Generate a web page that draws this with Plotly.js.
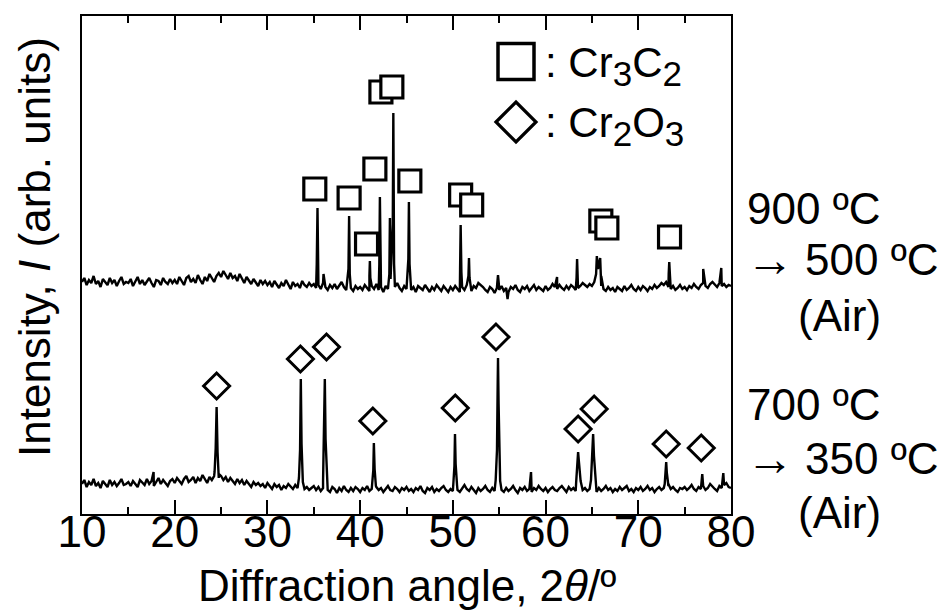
<!DOCTYPE html>
<html><head><meta charset="utf-8">
<script src="https://cdn.plot.ly/plotly-3.0.1.min.js"></script>
<style>html,body{margin:0;padding:0;background:#fff}#chart{width:944px;height:614px}</style>
</head><body><div id="chart"></div><script>
// scan grid: 10 to 80 deg, step 0.25 deg
const scanStart = 10, scanStep = 0.25;

// upper pattern (900 ºC -> 500 ºC), background values
const upperBase = [
232,236,229,234,231,238,230,233,227,235,232,229,236,231,234,228,233,237,230,232,
231,235,228,233,237,230,234,229,232,236,231,227,234,233,229,236,232,230,235,231,
234,230,237,233,229,236,238,232,235,231,239,234,230,237,233,240,236,232,238,241,
237,243,239,235,241,236,238,233,240,236,231,237,234,230,235,232,228,234,230,233,
229,232,227,233,230,226,231,228,234,229,225,232,228,230,226,233,229,227,231,228,
230,226,229,225,231,227,224,229,226,230,225,228,232,227,224,229,226,223,228,225,
227,224,229,226,223,228,225,230,224,227,222,228,225,229,224,227,231,226,223,228,
225,229,224,227,222,228,226,224,229,225,222,227,224,229,226,223,228,225,222,227,
224,228,225,222,227,224,229,225,223,228,226,231,229,227,224,222,227,225,221,226,
224,228,223,226,222,227,225,229,224,222,227,225,228,223,226,229,224,227,225,223,
228,224,226,230,227,225,229,226,224,228,225,229,227,224,226,228,231,229,227,230,
228,232,229,226,228,225,223,227,224,226,222,227,225,223,228,224,226,229,225,223,
227,224,228,226,223,227,225,229,226,228,231,229,232,227,225,228,224,226,229,225,
227,224,228,226,230,227,225,229,231,228,226,230,232,229,227,231,228,230,227,229,
228];
// upper pattern peaks (angle groups, intensity groups)
const upperPeakX = [
[35.32,35.40,35.47],[36.05],[38.74,38.81,38.88],[41.00,41.05,41.10],
[42.07,42.13,42.19],[43.15,43.21,43.28,43.52,43.58,43.66],[45.20,45.26,45.33],
[50.78,50.84,50.92],[51.68,51.74,51.80],[54.80,54.87,54.95],[55.90],[61.24],
[63.34,63.40,63.47],[65.45,65.53,65.65,65.89,66.00],[73.28,73.34,73.42],[77.00],[78.95]];
const upperPeakY = [
[250,306,248],[240],[245,298,240],[238,253,236],
[250,317,245],[240,296,235,290,401,250],[255,312,250],
[245,289,242],[238,256,236],[232,239,231],[215],[237],
[236,255,235],[240,258,245,256,238],[240,252,238],[245],[246]];

// lower pattern (700 ºC -> 350 ºC)
const lowerBase = [
30,34,27,32,29,35,28,31,26,33,30,27,34,29,32,28,31,35,29,30,
32,28,33,30,27,34,31,29,35,30,33,28,32,36,30,34,31,28,33,35,
31,36,33,30,35,38,32,34,37,31,36,33,39,35,31,37,34,38,33,36,
38,34,37,32,36,33,30,35,31,34,29,33,30,27,32,29,31,28,30,26,
31,28,25,30,27,29,24,28,26,30,27,25,29,26,23,28,25,27,24,26,
28,24,27,23,26,29,24,22,27,25,21,26,23,28,24,22,26,23,27,25,
22,26,24,28,23,25,21,27,24,26,22,25,28,24,23,27,25,22,26,24,
27,23,25,22,26,24,28,23,21,26,24,27,22,25,23,26,28,24,22,25,
23,27,24,22,26,29,25,23,27,24,21,26,23,25,28,24,22,26,23,25,
27,24,22,26,23,25,28,24,21,26,24,27,23,25,22,26,24,28,25,23,
26,22,25,27,24,23,26,28,25,22,27,24,26,23,25,28,24,26,23,25,
27,24,22,26,23,25,28,24,26,22,25,23,27,24,26,28,23,25,22,26,
24,27,23,25,28,24,26,22,25,27,24,26,23,28,25,27,24,22,26,25,
27,24,26,29,25,23,27,25,28,24,26,30,27,25,23,28,26,29,31,27,
26];
const lowerPeakX = [
[17.72],[24.30,24.42,24.52,24.62,24.75],[33.40,33.52,33.60,33.68,33.82],
[36.00,36.12,36.19,36.27,36.42],[41.30,41.42,41.48,41.56,41.70],
[50.05,50.17,50.23,50.30,50.45],[54.62,54.76,54.84,54.87,54.93,55.10],[58.43],
[63.30,63.43,63.51,63.60,63.78],[64.90,65.05,65.13,65.22,65.45],
[72.85,72.95,73.01,73.08,73.25],[76.90],[79.17]];
const lowerPeakY = [
[42],[42,66,107,62,40],[36,64,135,70,32],
[33,82,135,75,30],[30,44,71,45,28],
[30,48,80,50,29],[34,64,134,156,111,33],[42],
[32,50,62,52,33],[34,60,80,58,33],
[30,42,52,41,30],[40],[41]];

// phase markers
const cr3c2X = [35.11,38.81,40.69,41.59,42.24,43.42,45.36,50.84,52.03,65.96,66.61,73.37];
const cr3c2Y = [325,316,270,345,422,427,333,319,309,293,286,277];
const cr2o3X = [24.52,33.56,36.37,41.37,50.26,54.65,63.51,65.24,73.01,76.79];
const cr2o3Y = [128,155,167,93,106,177,85,105,70,66];

const xTicks = [10,20,30,40,50,60,70,80];

function buildPattern(base, peakX, peakY){
  const pts = [];
  base.forEach((v,i)=>{
    const x = scanStart + i*scanStep;
    const inside = peakX.some(g => g.length > 1 && x > g[0] && x < g[g.length-1]);
    if(!inside) pts.push([x,v]);
  });
  peakX.forEach((g,j)=>g.forEach((x,k)=>pts.push([x,peakY[j][k]])));
  pts.sort((a,b)=>a[0]-b[0]);
  return {x: pts.map(p=>p[0]), y: pts.map(p=>p[1])};
}
const up = buildPattern(upperBase, upperPeakX, upperPeakY);
const lo = buildPattern(lowerBase, lowerPeakX, lowerPeakY);

const FONT = '"Liberation Sans", Arial, sans-serif';
const L = 82, R = 213, T = 16, B = 100, W = 944, H = 614;
const pw = W - L - R, ph = H - T - B;
const px = x => (x - L) / pw;
const py = y => (H - B - y) / ph;

const traces = [
  {x: up.x, y: up.y, mode:'lines', line:{color:'#000', width:2.4}, hoverinfo:'skip'},
  {x: lo.x, y: lo.y, mode:'lines', line:{color:'#000', width:2.4}, hoverinfo:'skip'},
  {x: cr3c2X, y: cr3c2Y, mode:'markers', marker:{symbol:'square', size:22, color:'#fff', line:{color:'#000', width:3.2}}},
  {x: cr2o3X, y: cr2o3Y, mode:'markers', marker:{symbol:'diamond', size:20, color:'#fff', line:{color:'#000', width:3}}}
];

const ann = (text, x, y, xa, ya, size, extra) => Object.assign({
  text, x: px(x), y: py(y), xref:'paper', yref:'paper', xanchor: xa, yanchor: ya,
  showarrow:false, font:{family:FONT, size: size, color:'#000'}}, extra||{});

const sub = d => `<sub><span style="font-size:35px">${d}</span></sub>`;
const annotations = [
  ann('Intensity, <i>I</i> (arb. units)', 34, 247, 'center', 'middle', 44, {textangle:-90}),
  ann('Diffraction angle, 2<i>θ</i>/º', 407, 585, 'center', 'middle', 44),
  ann(': Cr' + sub(3) + 'C' + sub(2), 543, 66, 'left', 'middle', 42),
  ann(': Cr' + sub(2) + 'O' + sub(3), 543, 126, 'left', 'middle', 42),
  ann('900 ºC', 745, 208, 'left', 'middle', 44),
  ann('→', 744, 259, 'left', 'middle', 48),
  ann('500 ºC', 803, 259, 'left', 'middle', 44),
  ann('(Air)', 796, 316, 'left', 'middle', 44),
  ann('700 ºC', 745, 404, 'left', 'middle', 44),
  ann('→', 744, 458, 'left', 'middle', 48),
  ann('350 ºC', 803, 458, 'left', 'middle', 44),
  ann('(Air)', 796, 512, 'left', 'middle', 44)
];

const sq = {c: [516, 61.5], s: 36};
const dm = {c: [516, 122], s: 40};
const shapes = [
  {type:'rect', xref:'paper', yref:'paper', x0:px(sq.c[0]-sq.s/2), x1:px(sq.c[0]+sq.s/2),
   y0:py(sq.c[1]+sq.s/2), y1:py(sq.c[1]-sq.s/2), line:{color:'#000', width:3.5}, fillcolor:'#fff'},
  {type:'path', xref:'paper', yref:'paper',
   path:`M ${px(dm.c[0]-dm.s/2)} ${py(dm.c[1])} L ${px(dm.c[0])} ${py(dm.c[1]-dm.s/2)} L ${px(dm.c[0]+dm.s/2)} ${py(dm.c[1])} L ${px(dm.c[0])} ${py(dm.c[1]+dm.s/2)} Z`,
   line:{color:'#000', width:3.2}, fillcolor:'#fff'}
];

const layout = {
  width: W, height: H, margin:{l:L, r:R, t:T, b:B, pad:0},
  paper_bgcolor:'#fff', plot_bgcolor:'#fff', showlegend:false,
  font:{family:FONT, color:'#000'},
  xaxis:{range:[10,80], tickvals:xTicks, ticktext:xTicks.map(String), ticks:'inside', ticklen:14, tickwidth:2,
    tickcolor:'#000', showline:true, linewidth:2, linecolor:'#000', mirror:'ticks', ticklabelstandoff:-22,
    minor:{dtick:5, tick0:0, ticks:'inside', ticklen:7, tickwidth:2, tickcolor:'#000'},
    tickfont:{family:FONT, size:44, color:'#000'}, showgrid:false, zeroline:false},
  yaxis:{range:[0,498], showline:true, linewidth:2, linecolor:'#000', mirror:true, ticks:'',
    showticklabels:false, showgrid:false, zeroline:false},
  annotations, shapes
};
Plotly.newPlot('chart', traces, layout, {displayModeBar:false, staticPlot:true});
</script></body></html>
